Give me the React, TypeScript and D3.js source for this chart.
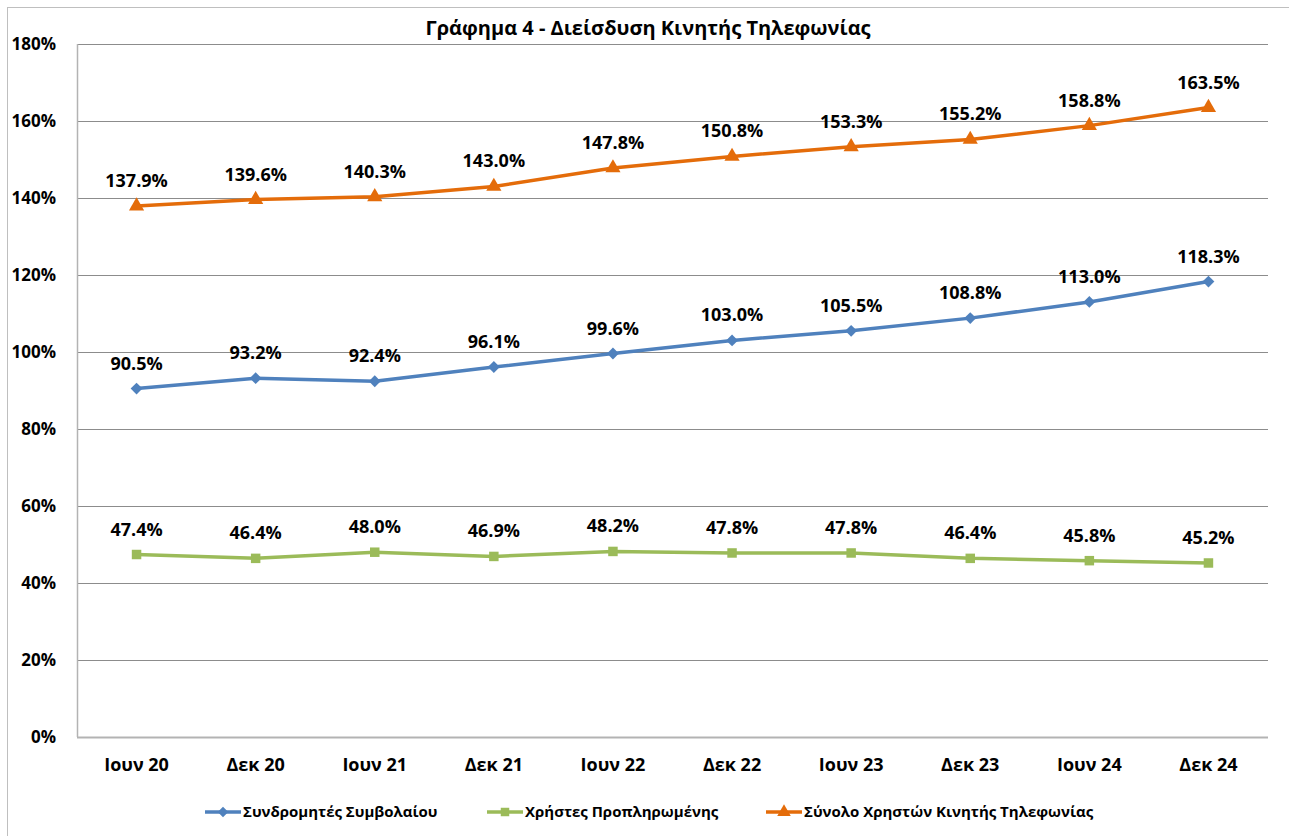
import React, { useEffect, useRef } from "react";
import * as d3 from "d3";

const categories = ["Ιουν 20", "Δεκ 20", "Ιουν 21", "Δεκ 21", "Ιουν 22", "Δεκ 22", "Ιουν 23", "Δεκ 23", "Ιουν 24", "Δεκ 24"];
const contract = [90.5, 93.2, 92.4, 96.1, 99.6, 103.0, 105.5, 108.8, 113.0, 118.3];
const prepaid = [47.4, 46.4, 48.0, 46.9, 48.2, 47.8, 47.8, 46.4, 45.8, 45.2];
const total = [137.9, 139.6, 140.3, 143.0, 147.8, 150.8, 153.3, 155.2, 158.8, 163.5];
const yTicks = [0, 20, 40, 60, 80, 100, 120, 140, 160, 180];

// rotated square for Excel-like diamond
const diamond = {
  draw(ctx: any, size: number) {
    const r = Math.sqrt(size / 2);
    ctx.moveTo(0, -r);
    ctx.lineTo(r, 0);
    ctx.lineTo(0, r);
    ctx.lineTo(-r, 0);
    ctx.closePath();
  },
};

const series = [
  { name: "Συνδρομητές Συμβολαίου", values: contract, color: "#4F81BD", symbol: diamond, size: 70, legendX: 205 },
  { name: "Χρήστες Προπληρωμένης", values: prepaid, color: "#9BBB59", symbol: d3.symbolSquare, size: 90, legendX: 487 },
  { name: "Σύνολο Χρηστών Κινητής Τηλεφωνίας", values: total, color: "#E46C0A", symbol: d3.symbolTriangle, size: 100, legendX: 766 },
];

const W = 1289, H = 836;
const FONT = "'Open Sans', 'DejaVu Sans', sans-serif";

export default function App() {
  const ref = useRef<SVGSVGElement>(null);

  useEffect(() => {
    const svg = d3.select(ref.current);
    svg.selectAll("*").remove();

    const left = 77, right = 1268, top = 44, bottom = 737;
    const x = d3.scaleBand().domain(categories).range([left, right]);
    const y = d3.scaleLinear().domain([0, 180]).range([bottom, top]);

    // outer border
    svg.append("rect").attr("x", 7.5).attr("y", 7.5).attr("width", W).attr("height", H)
      .attr("fill", "white").attr("stroke", "#bfbfbf");

    svg.append("text").attr("x", 648).attr("y", 35).attr("text-anchor", "middle")
      .attr("font-family", FONT).attr("font-weight", "bold").attr("font-size", 20)
      .text("Γράφημα 4 - Διείσδυση Κινητής Τηλεφωνίας");

    // gridlines
    svg.append("g").selectAll("line").data(yTicks.filter(t => t > 0)).join("line")
      .attr("x1", left).attr("x2", right)
      .attr("y1", d => Math.round(y(d)) + 0.5).attr("y2", d => Math.round(y(d)) + 0.5)
      .attr("stroke", "#8c8c8c").attr("stroke-width", 1);

    // axes lines
    svg.append("line").attr("x1", left + 0.5).attr("x2", left + 0.5).attr("y1", top).attr("y2", bottom)
      .attr("stroke", "#b3b3b3").attr("stroke-width", 1.5);
    svg.append("line").attr("x1", left).attr("x2", right).attr("y1", bottom + 0.5).attr("y2", bottom + 0.5)
      .attr("stroke", "#b3b3b3").attr("stroke-width", 2);

    svg.append("g").selectAll("text").data(yTicks).join("text")
      .attr("x", 56).attr("y", d => y(d) + 6).attr("text-anchor", "end")
      .attr("font-family", FONT).attr("font-weight", "bold").attr("font-size", 17)
      .text(d => d + "%");

    svg.append("g").selectAll("text").data(categories).join("text")
      .attr("x", d => (x(d) as number) + x.bandwidth() / 2).attr("y", 771).attr("text-anchor", "middle")
      .attr("font-family", FONT).attr("font-weight", "bold").attr("font-size", 18)
      .text(d => d);

    const line = d3.line<number>()
      .x((_, i) => (x(categories[i]) as number) + x.bandwidth() / 2)
      .y(d => y(d));

    series.forEach(s => {
      const g = svg.append("g");
      g.append("path").datum(s.values).attr("d", line).attr("fill", "none")
        .attr("stroke", s.color).attr("stroke-width", 3.5).attr("stroke-linejoin", "round");
      g.selectAll("path.pt").data(s.values).join("path").attr("class", "pt")
        .attr("d", d3.symbol(s.symbol as any, s.size)())
        .attr("transform", (d, i) => `translate(${(x(categories[i]) as number) + x.bandwidth() / 2},${y(d)})`)
        .attr("fill", s.color);
      g.selectAll("text").data(s.values).join("text")
        .attr("x", (_, i) => (x(categories[i]) as number) + x.bandwidth() / 2)
        .attr("y", d => y(d) - 19).attr("text-anchor", "middle")
        .attr("font-family", FONT).attr("font-weight", "bold").attr("font-size", 18)
        .text(d => d.toFixed(1) + "%");

      // legend
      const lg = svg.append("g").attr("transform", `translate(${s.legendX},812)`);
      lg.append("line").attr("x1", 0).attr("x2", 36).attr("stroke", s.color).attr("stroke-width", 3.5);
      lg.append("path").attr("d", d3.symbol(s.symbol as any, s.size * 0.8)()).attr("transform", "translate(18,0)").attr("fill", s.color);
      lg.append("text").attr("x", 38).attr("y", 5).attr("font-family", FONT).attr("font-weight", "bold")
        .attr("font-size", 15).text(s.name);
    });
  }, []);

  return (
    <svg ref={ref} width={W} height={H}
      style={{ position: "absolute", left: 0, top: 0, background: "white" }} />
  );
}
